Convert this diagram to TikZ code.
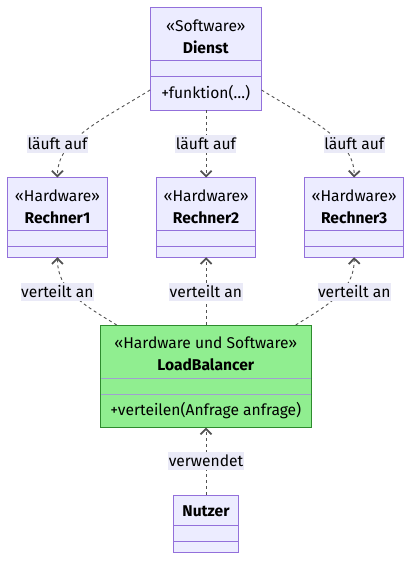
\documentclass[tikz,border=0pt]{standalone}
\usepackage{fontspec}
\setmainfont{Fira Sans}
\usetikzlibrary{arrows.meta}
\definecolor{boxfill}{HTML}{ECECFF}
\definecolor{boxline}{HTML}{9370DB}
\definecolor{lbfill}{HTML}{90EE90}
\definecolor{lbline}{HTML}{2E8B2E}
\definecolor{lbdiv}{HTML}{A0A0D0}
\definecolor{edgecol}{HTML}{333333}
\definecolor{lblfill}{HTML}{EAEAF7}
\tikzset{
  cls/.style={draw=boxline, fill=boxfill, line width=1pt, inner sep=0pt},
  lbcls/.style={draw=lbline, fill=lbfill, line width=1pt, inner sep=0pt},
  divline/.style={draw=boxline, line width=1pt},
  lbdivline/.style={draw=lbdiv, line width=1pt},
  txt/.style={inner sep=0pt, font=\fontsize{15.6}{18}\selectfont, text=black},
  btxt/.style={inner sep=0pt, font=\fontsize{15.6}{18}\selectfont\bfseries, text=black},
  elabel/.style={fill=lblfill, inner xsep=0.5pt, inner ysep=0pt, minimum height=18pt, font=\fontsize{15.6}{18}\selectfont, text=black},
  dep/.style={draw=edgecol!85, line width=0.9pt, dash pattern=on 3pt off 3pt,
    -{Straight Barb[length=5.5pt,width=11pt,line width=1.8pt]}},
}
\begin{document}
\begin{tikzpicture}[x=1pt,y=-1pt]
\useasboundingbox (0,0) rectangle (420,570);
\fill[white] (0,0) rectangle (420,570);

% ---- Dienst
\path[cls] (150.3,7.3) rectangle (261.3,110);
\node[minimum width=111pt, minimum height=102.7pt, inner sep=0pt] (dienst) at (205.8,58.65) {};
\draw[divline] (150.3,60.7) -- (261.3,60.7);
\draw[divline] (150.3,76.7) -- (261.3,76.7);
\node[txt] (dienstS) at (205.8,25.5) {«Software»};
\node[btxt] (dienstN) at (205.8,47.5) {Dienst};
\node[txt] (dienstM) at (205.8,93.5) {+funktion(…)};

% ---- Rechner boxes
\foreach \n/\x in {1/7.7, 2/156.3, 3/304.3}{
  \path[cls] (\x,177.7) rectangle ++(99.6,79.3);
  \draw[divline] (\x,230) -- ++(99.6,0);
  \draw[divline] (\x,246.7) -- ++(99.6,0);
  \node[txt] (rS\n) at (\x+49.8,195.5) {«Hardware»};
  \node[btxt] (rN\n) at (\x+49.8,217.5) {Rechner\n};
  \node[minimum width=99.6pt, minimum height=79.3pt, inner sep=0pt] (r\n) at (\x+49.8,217.35) {};
}

% ---- LoadBalancer
\path[lbcls] (100.3,325) rectangle (311.3,427.3);
\node[minimum width=211pt, minimum height=102.3pt, inner sep=0pt] (lb) at (205.8,376.15) {};
\draw[lbdivline] (101,378) -- (310.6,378);
\draw[lbdivline] (101,394) -- (310.6,394);
\node[txt] (lbS) at (205.8,342.5) {«Hardware und Software»};
\node[btxt] (lbN) at (205.8,364.5) {LoadBalancer};
\node[txt] (lbM) at (205.8,410.7) {+verteilen(Anfrage anfrage)};

% ---- Nutzer
\path[cls] (173.3,495) rectangle (238.7,552.3);
\node[minimum width=65.4pt, minimum height=57.3pt, inner sep=0pt] (nutzer) at (206,523.65) {};
\draw[divline] (173.3,525.7) -- (238.7,525.7);
\draw[divline] (173.3,541.7) -- (238.7,541.7);
\node[btxt] (nutzerN) at (206,510.8) {Nutzer};

% ---- connectors (Dienst -> Rechner)
\draw[dep] (dienst.west |- 0,90) .. controls (100,121) and (57,140) .. (r1.north);
\draw[dep] (dienst.south -| r2.north) -- (r2.north);
\draw[dep] (dienst.east |- 0,90) .. controls (312,121) and (355,140) .. (r3.north);

% ---- connectors (LoadBalancer -> Rechner)
\coordinate (lbL) at (116.7,325);
\coordinate (lbR) at (295.7,325);
\draw[dep] (lbL) .. controls (84,305) and (57,290) .. (r1.south);
\draw[dep] (lb.north -| r2.south) -- (r2.south);
\draw[dep] (lbR) .. controls (328,305) and (355,290) .. (r3.south);

% ---- Nutzer -> LoadBalancer
\draw[dep] (nutzer.north) -- (lb.south -| nutzer.north);

% ---- edge labels
\node[elabel] (l1) at (57.5,143.8) {läuft auf};
\node[elabel] (l2) at (205.9,143.8) {läuft auf};
\node[elabel] (l3) at (354.2,143.8) {läuft auf};
\node[elabel] (v1) at (57.4,291.5) {verteilt an};
\node[elabel] (v2) at (205.9,291.5) {verteilt an};
\node[elabel] (v3) at (354.2,291.5) {verteilt an};
\node[elabel] (w1) at (206,461.2) {verwendet};
\end{tikzpicture}
\end{document}
